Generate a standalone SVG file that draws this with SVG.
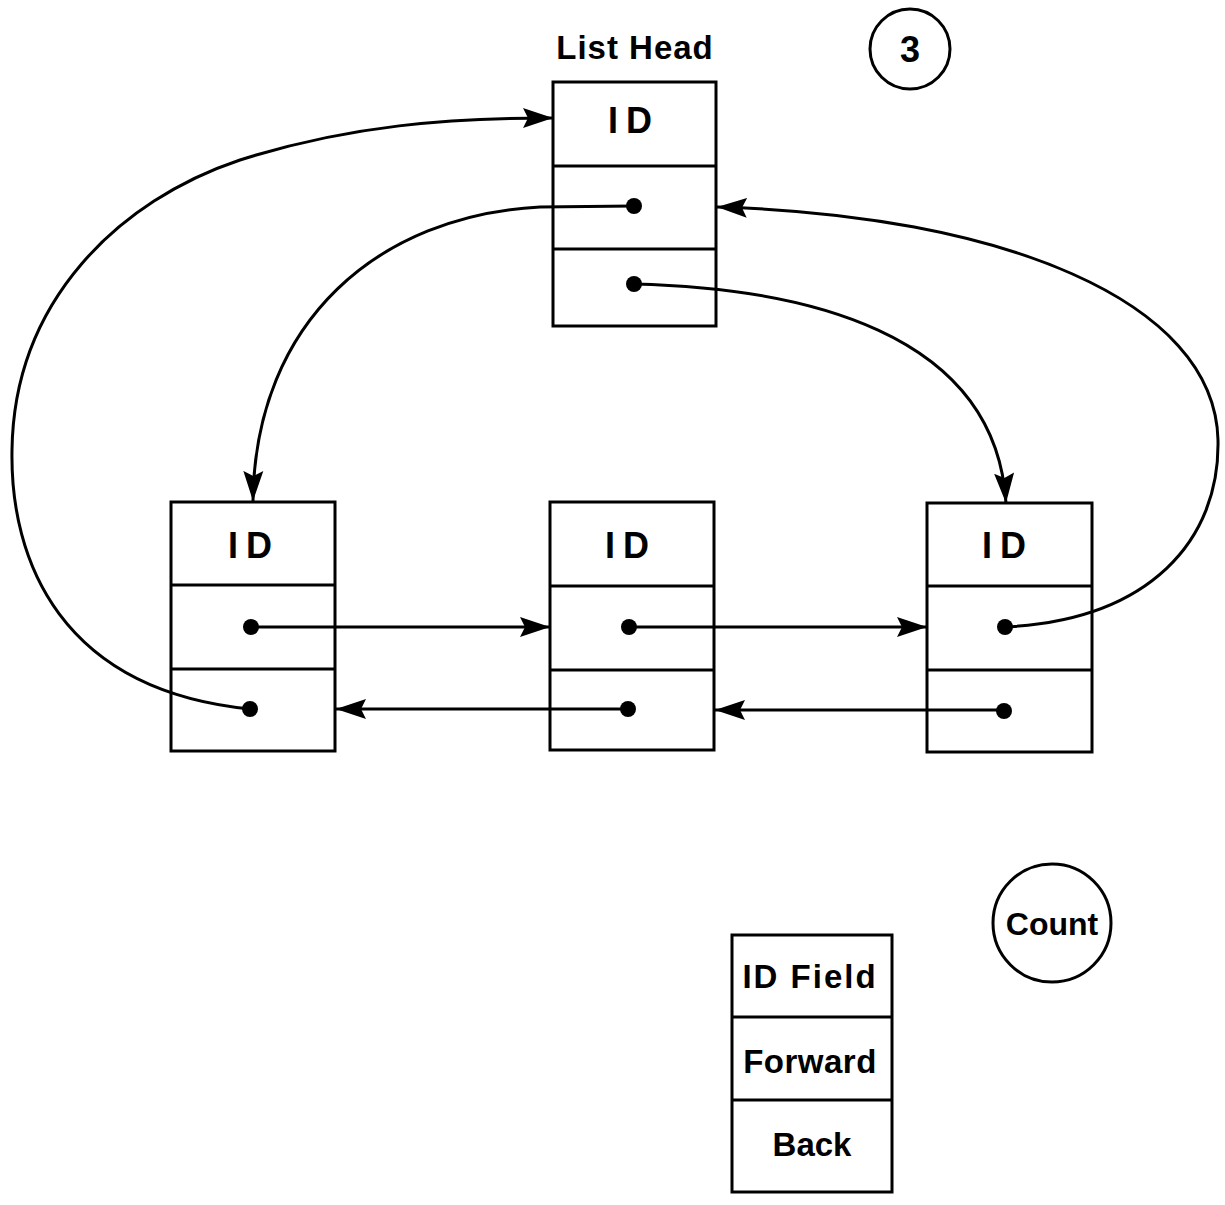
<svg xmlns="http://www.w3.org/2000/svg" width="1225" height="1205" viewBox="0 0 1225 1205">
<style>
.box{fill:none;stroke:#000;stroke-width:3}
.ln{fill:none;stroke:#000;stroke-width:3}
.dot{fill:#000}
.t{font-family:"Liberation Sans",Arial,sans-serif;fill:#000;text-anchor:middle;font-weight:bold}
.id{font-size:36px;letter-spacing:8px}
.lbl{font-size:33px}
</style>
<defs>
<marker id="ah" markerUnits="userSpaceOnUse" markerWidth="32" markerHeight="22" refX="30" refY="11" orient="auto">
<path d="M0,1 L30,11 L0,21 L5,11 Z" fill="#000"/>
</marker>
</defs>
<rect width="1225" height="1205" fill="#fff"/>
<g id="connectors">
<path class="ln" d="M250,709 C60,690 10,560 12,450 C14,300 120,200 240,160 C350,125 450,118 553,118" marker-end="url(#ah)"/>
<path class="ln" d="M634,206 L540,207 C380,215 255,320 253,501" marker-end="url(#ah)"/>
<path class="ln" d="M634,284 C800,288 995,330 1006,503" marker-end="url(#ah)"/>
<path class="ln" d="M1005,627 C1150,620 1220,540 1218,440 C1215,300 1000,215 717,207" marker-end="url(#ah)"/>
<path class="ln" d="M251,627 L550,627" marker-end="url(#ah)"/>
<path class="ln" d="M629,627 L927,627" marker-end="url(#ah)"/>
<path class="ln" d="M628,709 L336,709" marker-end="url(#ah)"/>
<path class="ln" d="M1004,710 L715,710" marker-end="url(#ah)"/>
</g>
<g id="list-head">
<text class="t lbl" x="635" y="59" letter-spacing="1">List Head</text>
<rect class="box" x="553" y="82" width="163" height="244"/>
<line class="box" x1="553" y1="166" x2="716" y2="166"/>
<line class="box" x1="553" y1="249" x2="716" y2="249"/>
<text class="t id" x="634" y="133">ID</text>
<circle class="dot" cx="634" cy="206" r="8"/>
<circle class="dot" cx="634" cy="284" r="8"/>
</g>
<g id="count-3">
<circle class="box" cx="910" cy="49" r="40"/>
<text class="t" x="910" y="62" font-size="36" font-weight="normal">3</text>
</g>
<g id="node-1">
<rect class="box" x="171" y="502" width="164" height="249"/>
<line class="box" x1="171" y1="585" x2="335" y2="585"/>
<line class="box" x1="171" y1="669" x2="335" y2="669"/>
<text class="t id" x="254" y="558">ID</text>
<circle class="dot" cx="251" cy="627" r="8"/>
<circle class="dot" cx="250" cy="709" r="8"/>
</g>
<g id="node-2">
<rect class="box" x="550" y="502" width="164" height="248"/>
<line class="box" x1="550" y1="586" x2="714" y2="586"/>
<line class="box" x1="550" y1="670" x2="714" y2="670"/>
<text class="t id" x="631" y="558">ID</text>
<circle class="dot" cx="629" cy="627" r="8"/>
<circle class="dot" cx="628" cy="709" r="8"/>
</g>
<g id="node-3">
<rect class="box" x="927" y="503" width="165" height="249"/>
<line class="box" x1="927" y1="586" x2="1092" y2="586"/>
<line class="box" x1="927" y1="670" x2="1092" y2="670"/>
<text class="t id" x="1008" y="558">ID</text>
<circle class="dot" cx="1005" cy="627" r="8"/>
<circle class="dot" cx="1004" cy="711" r="8"/>
</g>
<g id="count">
<circle class="box" cx="1052" cy="923" r="59"/>
<text class="t" x="1052" y="935" font-size="32">Count</text>
</g>
<g id="legend">
<rect class="box" x="732" y="935" width="160" height="257"/>
<line class="box" x1="732" y1="1017" x2="892" y2="1017"/>
<line class="box" x1="732" y1="1100" x2="892" y2="1100"/>
<text class="t lbl" x="810" y="988" letter-spacing="2">ID Field</text>
<text class="t lbl" x="810" y="1073" letter-spacing="0.5">Forward</text>
<text class="t lbl" x="812" y="1156">Back</text>
</g>
</svg>
